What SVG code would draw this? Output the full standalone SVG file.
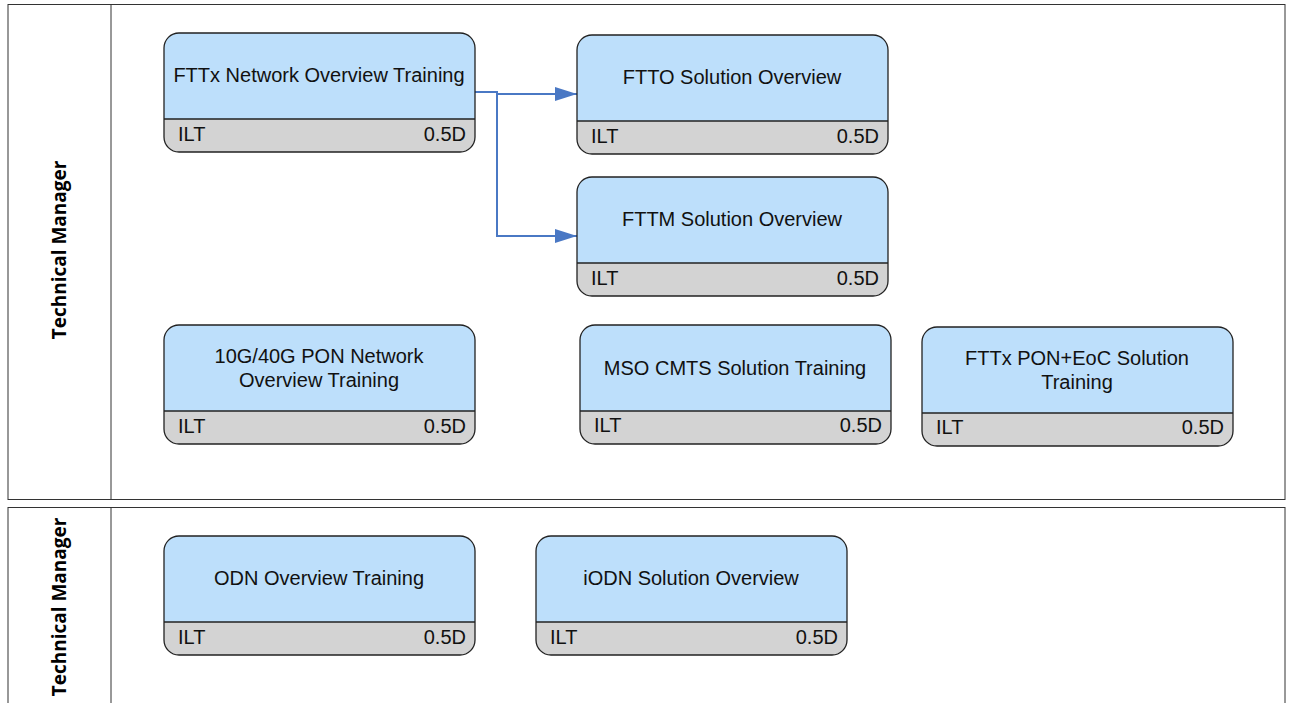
<svg xmlns="http://www.w3.org/2000/svg" width="1290" height="703" viewBox="0 0 1290 703">
<defs>
<style>
.lane{fill:#fff;stroke:#333;stroke-width:1}
.lt{font-family:"Open Sans","DejaVu Sans",sans-serif;font-weight:bold;font-size:19px;fill:#000;text-anchor:middle}
.top{fill:#bddffb}
.bot{fill:#d3d3d3}
.frame{fill:none;stroke:#222;stroke-width:1.3}
.t{font-family:"Liberation Sans",Arial,sans-serif;font-size:20px;fill:#111}
.c{text-anchor:middle}
.r{text-anchor:end}
.conn{fill:none;stroke:#4a78c4;stroke-width:2}
</style>
<marker id="ah" markerWidth="22" markerHeight="14" refX="22" refY="7" orient="auto" markerUnits="userSpaceOnUse">
<path d="M0,0 L22,7 L0,14 Z" fill="#4a78c4"/>
</marker>
<clipPath id="nc"><rect x="0" y="0" width="311" height="119" rx="15"/></clipPath>
<g id="card">
<g clip-path="url(#nc)">
<rect class="top" x="0" y="0" width="311" height="86"/>
<rect class="bot" x="0" y="86" width="311" height="33"/>
</g>
<line x1="0" y1="86" x2="311" y2="86" stroke="#222" stroke-width="1.3"/>
<rect class="frame" x="0" y="0" width="311" height="119" rx="15"/>
</g>
</defs>
<rect width="1290" height="703" fill="#fff"/>
<g id="lane1">
<rect class="lane" x="8" y="4.5" width="1277" height="495"/>
<line x1="111" y1="4.5" x2="111" y2="499.5" stroke="#333"/>
<text class="lt" transform="translate(66,250) rotate(-90)">Technical Manager</text>
</g>
<g id="lane2">
<rect class="lane" x="8" y="507.5" width="1277" height="210"/>
<line x1="111" y1="507.5" x2="111" y2="703" stroke="#333"/>
<text class="lt" transform="translate(66,607) rotate(-90)">Technical Manager</text>
</g>
<g id="connectors">
<path class="conn" d="M474,92 L497,92 L497,94 L577,94" marker-end="url(#ah)"/>
<path class="conn" d="M497,92 L497,236 L577,236" marker-end="url(#ah)"/>
</g>
<g id="n1" transform="translate(164,33)">
<use href="#card"/>
<text class="t c" x="155" y="49">FTTx Network Overview Training</text>
<text class="t" x="14" y="108">ILT</text><text class="t r" x="302" y="108">0.5D</text>
</g>
<g id="n2" transform="translate(577,35)">
<use href="#card"/>
<text class="t c" x="155" y="49">FTTO Solution Overview</text>
<text class="t" x="14" y="108">ILT</text><text class="t r" x="302" y="108">0.5D</text>
</g>
<g id="n3" transform="translate(577,177)">
<use href="#card"/>
<text class="t c" x="155" y="49">FTTM Solution Overview</text>
<text class="t" x="14" y="108">ILT</text><text class="t r" x="302" y="108">0.5D</text>
</g>
<g id="n4" transform="translate(164,325)">
<use href="#card"/>
<text class="t c" x="155" y="38">10G/40G PON Network</text>
<text class="t c" x="155" y="62">Overview Training</text>
<text class="t" x="14" y="108">ILT</text><text class="t r" x="302" y="108">0.5D</text>
</g>
<g id="n5" transform="translate(580,325)">
<use href="#card"/>
<text class="t c" x="155" y="50">MSO CMTS Solution Training</text>
<text class="t" x="14" y="107">ILT</text><text class="t r" x="302" y="107">0.5D</text>
</g>
<g id="n6" transform="translate(922,327)">
<use href="#card"/>
<text class="t c" x="155" y="38">FTTx PON+EoC Solution</text>
<text class="t c" x="155" y="62">Training</text>
<text class="t" x="14" y="107">ILT</text><text class="t r" x="302" y="107">0.5D</text>
</g>
<g id="n7" transform="translate(164,536)">
<use href="#card"/>
<text class="t c" x="155" y="49">ODN Overview Training</text>
<text class="t" x="14" y="108">ILT</text><text class="t r" x="302" y="108">0.5D</text>
</g>
<g id="n8" transform="translate(536,536)">
<use href="#card"/>
<text class="t c" x="155" y="49">iODN Solution Overview</text>
<text class="t" x="14" y="108">ILT</text><text class="t r" x="302" y="108">0.5D</text>
</g>
</svg>
